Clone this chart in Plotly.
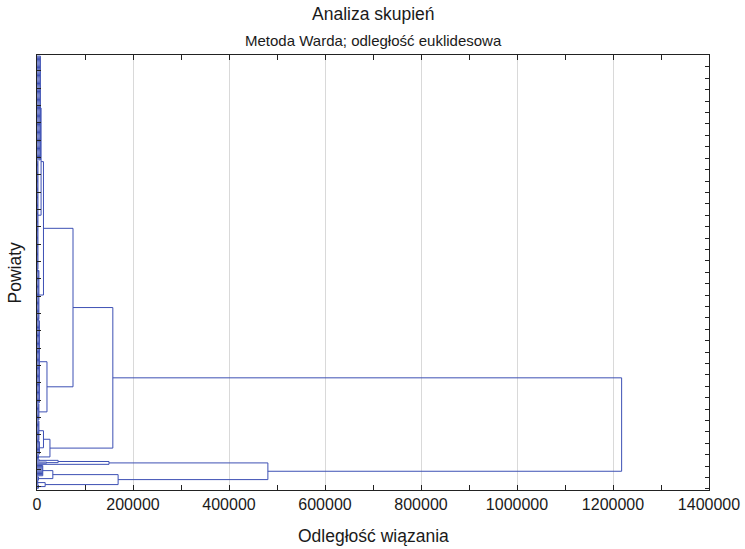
import plotly.graph_objects as go

# ---- data ----
# leaf groups, top to bottom: number of powiaty and their internal linkage distance
group_sizes = [92, 96, 44, 73, 15, 18, 12, 4, 2, 2, 1, 10, 4, 3, 4]
group_heights = [7000, 2000, 4000, 5000, 4000, 4000, 5000, 3000, 5000, 20000, 0, 12000, 3000, 2000, 3000]

# merges (node ids: groups are 0..14, merges are 15..28 in order)
merge_left = [0, 15, 3, 16, 5, 19, 18, 8, 22, 11, 13, 24, 23, 21]
merge_right = [1, 2, 4, 17, 6, 7, 20, 9, 10, 12, 14, 25, 26, 27]
merge_heights = [8500, 13500, 20800, 75000, 13500, 27000, 158000, 44000,
                 150000, 33000, 17000, 169000, 481000, 1218000]

x_ticks = [0, 200000, 400000, 600000, 800000, 1000000, 1200000, 1400000]
x_tick_labels = ["0", "200000", "400000", "600000", "800000", "1000000", "1200000", "1400000"]

title_text = "Analiza skupień"
subtitle_text = "Metoda Warda; odległość euklidesowa"
x_title = "Odległość wiązania"
y_title = "Powiaty"

# ---- build dendrogram segments ----
xs, ys = [], []
pos, hgt = [], []
start = 0
for n, h in zip(group_sizes, group_heights):
    for k in range(n):
        if h > 0:
            xs += [0, h, None]
            ys += [start + k, start + k, None]
    if n > 1:
        xs += [h, h, None]
        ys += [start, start + n - 1, None]
    pos.append(start + (n - 1) / 2)
    hgt.append(h)
    start += n
n_leaves = start

for a, b, h in zip(merge_left, merge_right, merge_heights):
    xs += [hgt[a], h, None, hgt[b], h, None, h, h, None]
    ys += [pos[a], pos[a], None, pos[b], pos[b], None, pos[a], pos[b], None]
    pos.append((pos[a] + pos[b]) / 2)
    hgt.append(h)

fig = go.Figure()
fig.add_trace(go.Scatter(x=xs, y=ys, mode="lines",
                         line=dict(color="#3d50b4", width=1),
                         hoverinfo="skip", showlegend=False))
# invisible trace on the right axis for mirrored leaf ticks
fig.add_trace(go.Scatter(x=[None], y=[None], yaxis="y2", showlegend=False))

yrange = [n_leaves + 0.5, -1]
font_main = "Liberation Sans, Arial, sans-serif"
ink = "#1a1a1a"

fig.update_layout(
    width=745, height=549,
    margin=dict(l=37, r=36, t=55, b=59, autoexpand=False),
    paper_bgcolor="white", plot_bgcolor="white",
    font=dict(family=font_main, color=ink),
    xaxis=dict(range=[0, 1400000], tickvals=x_ticks, ticktext=x_tick_labels,
               showgrid=True, gridcolor="#d9d9d9", gridwidth=1,
               zeroline=False, showline=True, linecolor="#222", linewidth=1,
               ticks="inside", ticklen=5, tickcolor="#222", mirror="allticks",
               minor=dict(dtick=100000, tick0=0, ticks="inside", ticklen=3,
                          tickcolor="#222", showgrid=False),
               tickfont=dict(size=16, family=font_main, color=ink),
               automargin=False),
    yaxis=dict(range=yrange, showgrid=False, zeroline=False, showline=True,
               linecolor="#222", linewidth=1, ticks="inside", ticklen=4,
               tickcolor="#222", tick0=13, dtick=15.2, showticklabels=False,
               automargin=False),
    yaxis2=dict(range=yrange, overlaying="y", side="right", showgrid=False,
                zeroline=False, showline=True, linecolor="#222", linewidth=1,
                ticks="inside", ticklen=4, tickcolor="#222", tick0=9.5, dtick=10,
                showticklabels=False, automargin=False),
)

fig.add_annotation(text=title_text, xref="paper", yref="paper", x=0.5, y=1,
                   xanchor="center", yanchor="middle", yshift=41,
                   showarrow=False, font=dict(size=17.5, family=font_main, color=ink))
fig.add_annotation(text=subtitle_text, xref="paper", yref="paper", x=0.5, y=1,
                   xanchor="center", yanchor="middle", yshift=15,
                   showarrow=False, font=dict(size=15, family=font_main, color=ink))
fig.add_annotation(text=x_title, xref="paper", yref="paper", x=0.5, y=0,
                   xanchor="center", yanchor="middle", yshift=-46,
                   showarrow=False, font=dict(size=17.5, family=font_main, color=ink))
fig.add_annotation(text=y_title, xref="paper", yref="paper", x=0, y=0.5,
                   xanchor="center", yanchor="middle", xshift=-23, textangle=-90,
                   showarrow=False, font=dict(size=17.5, family=font_main, color=ink))

fig.write_html("out.html", config={"displayModeBar": False},
               post_script="document.body.style.margin='0';")
